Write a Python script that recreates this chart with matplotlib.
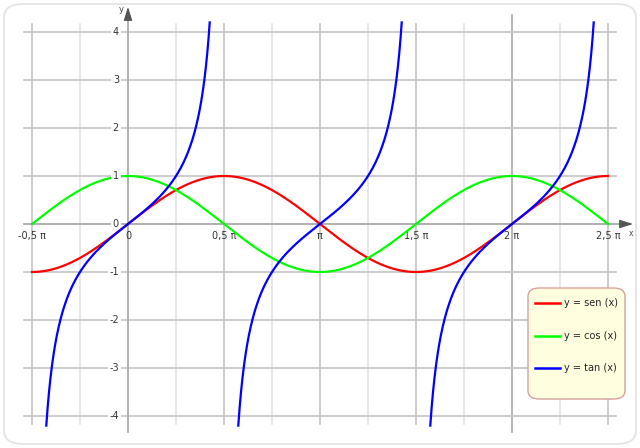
import numpy as np
import matplotlib.pyplot as plt
from matplotlib.patches import FancyBboxPatch

# ticks in units of pi/2
x_ticks = [-1, 0, 1, 2, 3, 4, 5]
x_tick_labels = ['-0,5 π', '0', '0,5 π', 'π', '1,5 π', '2 π', '2,5 π']
y_ticks = [-4, -3, -2, -1, 0, 1, 2, 3, 4]
series_labels = ['y = sen (x)', 'y = cos (x)', 'y = tan (x)']
series_colors = ['#ff0000', '#00ff00', '#0000ff']
tan_clip = 4.2

H = np.pi / 2
W, Hpx = 640, 448


def px(xp, yp):
    # pixel -> figure fraction
    return xp / W, 1 - yp / Hpx


def dx(xp):
    # pixel -> data x
    return (xp - 128) / 96 * H


def dy(yp):
    # pixel -> data y
    return (224 - yp) / 48


fig = plt.figure(figsize=(6.4, 4.48), dpi=100)
ax = fig.add_axes([0, 0, 1, 1])
ax.set_zorder(1)
ax.patch.set_alpha(0)
ax.set_xlim(dx(0), dx(640))
ax.set_ylim(dy(448), dy(0))
ax.axis('off')

# outer rounded frame
fig.patches.append(FancyBboxPatch(px(4, 444), 632 / W, 440 / Hpx, boxstyle='round,pad=0,rounding_size=0.03',
                                  transform=fig.transFigure, fc='white', ec='#e2e2e2', lw=1.2, zorder=0))

gx0, gx1 = dx(24), dx(616)
gy0, gy1 = dy(424), dy(24)

# minor vertical grid (pi/4)
for k in np.arange(-1, 5, 1) + 0.5:
    ax.plot([k * H, k * H], [gy0, gy1], color='#e6e6e6', lw=1.3, zorder=1)
# major vertical grid (pi/2)
for k in x_ticks:
    if k == 0:
        continue
    if k == 4:
        ax.plot([k * H, k * H], [dy(432), dy(15)], color='#b0b0b0', lw=1.3, zorder=1)
    else:
        ax.plot([k * H, k * H], [gy0, gy1], color='#c8c8c8', lw=1.3, zorder=1)
# horizontal grid
for v in y_ticks:
    if v == 0:
        continue
    ax.plot([gx0, gx1], [v, v], color='#c8c8c8', lw=1.3, zorder=1)

# axes
ax.plot([gx0, dx(626)], [0, 0], color='#aaaaaa', lw=1.3, zorder=2)
ax.plot([0, 0], [dy(432), dy(14)], color='#aaaaaa', lw=1.3, zorder=2)
ax.annotate('', xy=(dx(636), 0), xytext=(dx(622), 0),
            arrowprops=dict(arrowstyle='-|>,head_length=0.8,head_width=0.25', color='#555555', lw=1.0), zorder=3)
ax.annotate('', xy=(0, dy(4)), xytext=(0, dy(18)),
            arrowprops=dict(arrowstyle='-|>,head_length=0.8,head_width=0.25', color='#555555', lw=1.0), zorder=3)
ax.text(dx(631), dy(233), 'x', fontsize=5.5, color='#444444', ha='center', va='center')
ax.text(dx(121), dy(9), 'y', fontsize=6, color='#444444', ha='center', va='center')

# tick labels
box = dict(fc='white', ec='none', pad=1.2)
for v in y_ticks:
    ax.text(dx(119), v, str(v), fontsize=7, color='#333333', ha='right', va='center', bbox=box,
            zorder=4 if v == 0 else 7)
for k, lab in zip(x_ticks, x_tick_labels):
    ax.text(k * H, dy(236), lab, fontsize=7, color='#333333', ha='center', va='center', zorder=4)

# curves
x = np.linspace(-H, 5 * H, 2000)
ax.plot(x, np.sin(x), color=series_colors[0], lw=1.6, zorder=5)
ax.plot(x, np.cos(x), color=series_colors[1], lw=1.6, zorder=5)
for c in [0, np.pi, 2 * np.pi]:
    xt = np.linspace(c - np.arctan(tan_clip), c + np.arctan(tan_clip), 600)
    ax.plot(xt, np.tan(xt), color=series_colors[2], lw=1.6, zorder=6)

# legend
fig.patches.append(FancyBboxPatch(px(528, 399), 97 / W, 111 / Hpx, boxstyle='round,pad=0,rounding_size=0.018',
                                  transform=fig.transFigure, fc='#ffffe0', ec='#d9a09a', lw=1.0, zorder=7))
for i, (lab, col) in enumerate(zip(series_labels, series_colors)):
    yp = 303 + i * 32.5
    x0, y0 = px(535, yp)
    x1, _ = px(560, yp)
    fig.add_artist(plt.Line2D([x0, x1], [y0, y0], color=col, lw=1.8, transform=fig.transFigure, zorder=8))
    tx, ty = px(564, yp)
    fig.text(tx, ty, lab, fontsize=7, color='#222222', ha='left', va='center', zorder=8)

fig.savefig('out.png', dpi=100)
